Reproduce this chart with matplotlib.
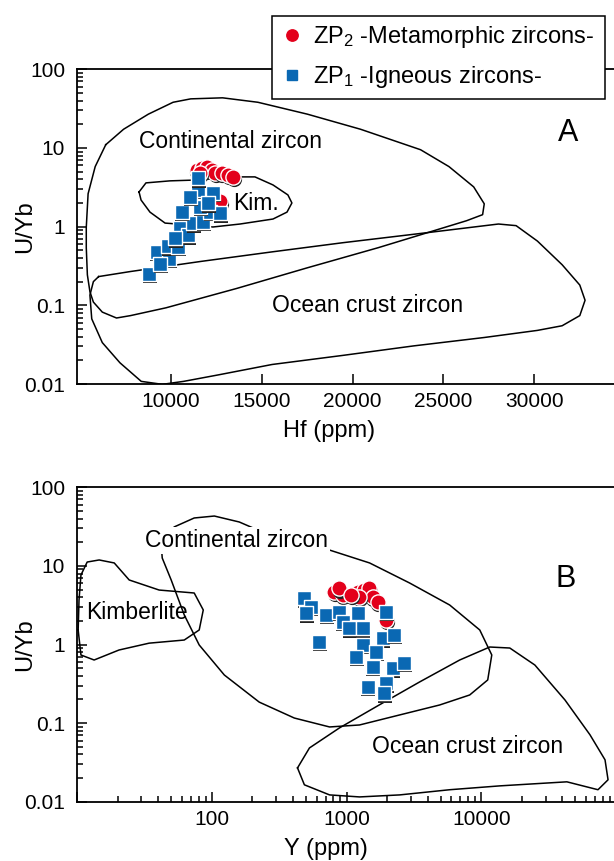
import matplotlib
matplotlib.use("Agg")
import matplotlib.pyplot as plt
from matplotlib.lines import Line2D
from matplotlib.ticker import FixedLocator, FixedFormatter, LogLocator, NullFormatter, NullLocator
from matplotlib.transforms import offset_copy

plt.rcParams['font.family'] = ['Liberation Sans', 'DejaVu Sans']
plt.rcParams['mathtext.default'] = 'regular'

RED = '#e3001b'
BLUE = '#0a68b3'

# ---- Panel A : U/Yb vs Hf (ppm) ----
hf_zp2 = [11440, 11710, 11990, 12260, 12440, 12810, 13170, 13450, 12720, 11620]
uyb_hf_zp2 = [5.3, 5.5, 5.8, 5.3, 4.8, 4.8, 4.6, 4.3, 2.1, 4.8]

hf_zp1 = [8830, 9240, 9920, 9880, 10430, 10520, 10980, 11250, 11800, 10610,
          12170, 12720, 11620, 12350, 11530, 11530, 11070, 12080, 9420, 10250]
uyb_hf_zp1 = [0.25, 0.48, 0.39, 0.56, 0.55, 0.95, 0.78, 1.10, 1.15, 1.55,
              1.55, 1.47, 1.79, 2.70, 2.92, 4.13, 2.41, 1.98, 0.34, 0.71]

cont_a_hf = [6440, 7420, 8780, 10140, 11110, 12860, 14800, 17520, 20440, 23740,
             25300, 26660, 27240, 27150, 26270, 24130, 21410, 17520, 13640, 9750,
             7800, 7030, 6250, 5760, 5570, 5430, 5370, 5370, 5470, 5860]
cont_a_uyb = [11.0, 17.3, 26.9, 38.1, 42.1, 43.4, 38.1, 26.9, 17.3, 9.5,
              5.8, 3.2, 1.95, 1.42, 1.19, 0.84, 0.54, 0.30, 0.164, 0.093,
              0.074, 0.069, 0.082, 0.110, 0.149, 0.244, 0.54, 0.98, 2.62, 5.8]

ocean_a_hf = [6050, 7800, 11690, 15580, 19470, 24130, 28020, 28990, 30160, 31520,
              32490, 32780, 32490, 31520, 30160, 27240, 23360, 19470, 15580, 12660,
              10720, 9550, 8390, 7220, 6250, 5670, 5570, 5760]
ocean_a_uyb = [0.232, 0.269, 0.362, 0.478, 0.625, 0.84, 1.08, 1.03, 0.656, 0.328,
               0.181, 0.116, 0.074, 0.055, 0.048, 0.039, 0.0305, 0.0231, 0.0177, 0.0131,
               0.0108, 0.0099, 0.0108, 0.0186, 0.0336, 0.0673, 0.135, 0.20]

kim_a_hf = [8270, 8650, 9970, 11620, 13270, 14640, 15630, 16450, 16670, 16400,
            15630, 13820, 12330, 11070, 9700, 8870, 8380]
kim_a_uyb = [2.76, 3.60, 3.82, 3.93, 4.29, 4.29, 3.39, 2.53, 2.00, 1.53,
             1.25, 1.08, 0.99, 1.05, 1.11, 1.53, 2.18]

# ---- Panel B : U/Yb vs Y (ppm) ----
y_zp2 = [811, 935, 883, 1211, 1356, 1477, 1563, 1703, 1245, 1079, 1968]
uyb_y_zp2 = [4.70, 4.26, 5.19, 4.70, 4.93, 5.19, 4.05, 3.51, 4.05, 4.26, 2.05]

y_zp1 = [485, 544, 500, 704, 883, 1211, 935, 1049, 1318, 628, 1968,
         1855, 2265, 1318, 1655, 1178, 1563, 2204, 2692, 1436, 1968, 1910]
uyb_y_zp1 = [3.87, 3.03, 2.49, 2.37, 2.61, 2.49, 1.95, 1.61, 1.61, 1.09, 2.61,
             1.20, 1.32, 0.99, 0.81, 0.70, 0.52, 0.50, 0.58, 0.29, 0.32, 0.24]

cont_b_y = [42.2, 52.6, 74.1, 104.5, 160, 268, 448, 749, 1484, 2940, 5830, 9750,
            11970, 11170, 8210, 4910, 2480, 1250, 749, 410, 225, 124, 80.7, 62.5,
            50.0, 42.9]
cont_b_uyb = [18.5, 31.3, 40.7, 43.1, 36.2, 24.7, 19.5, 15.9, 10.9, 6.06, 3.18, 1.53,
              0.736, 0.354, 0.228, 0.170, 0.127, 0.0947, 0.0893, 0.116, 0.185, 0.409,
              0.986, 2.38, 6.62, 12.6]

ocean_b_y = [433, 531, 887, 1758, 3490, 6920, 11560, 16290, 25000, 41800, 64100,
             82900, 87300, 73500, 43200, 13740, 5830, 2480, 1250, 749, 487]
ocean_b_uyb = [0.0269, 0.0483, 0.0869, 0.171, 0.334, 0.635, 0.929, 0.902, 0.548,
               0.197, 0.071, 0.0341, 0.019, 0.0142, 0.0179, 0.0159, 0.0142, 0.0122,
               0.0115, 0.0122, 0.0164]

kimb_b_y = [10.2, 10.35, 10.7, 11.9, 14.6, 18.9, 24.4, 40.7, 74.1, 86.5, 80.7,
            62.5, 34.3, 20.5, 13.4, 10.7]
kimb_b_uyb = [1.53, 3.68, 7.66, 11.2, 11.9, 10.9, 6.62, 4.93, 4.52, 2.75, 1.53,
              1.14, 1.04, 0.851, 0.635, 0.735]

uyb_ticks = [0.01, 0.1, 1, 10, 100]
uyb_labels = ['0.01', '0.1', '1', '10', '100']
hf_ticks = [10000, 15000, 20000, 25000, 30000]
y_ticks = [10, 100, 1000, 10000, 100000]
y_labels = ['', '100', '1000', '10000', '']


def closed(xs, ys):
    return list(xs) + [xs[0]], list(ys) + [ys[0]]


def field(ax, xs, ys):
    cx, cy = closed(xs, ys)
    ax.plot(cx, cy, color='black', lw=1.1, zorder=2)


def points(ax, fig, xs, ys, marker, color, size, z0):
    shadow = offset_copy(ax.transData, fig=fig, x=0.6, y=-2.4, units='dots')
    for i, (x, y) in enumerate(zip(xs, ys)):
        ax.scatter([x], [y], s=size, marker=marker, color='#222222', lw=0,
                   transform=shadow, zorder=z0 + 2 * i)
        ax.scatter([x], [y], s=size, marker=marker, facecolor=color,
                   edgecolor='white', lw=1.0, zorder=z0 + 2 * i + 1)


def style(ax):
    for s in ax.spines.values():
        s.set_linewidth(1.3)
    ax.spines['right'].set_visible(False)
    ax.set_yscale('log')
    ax.set_ylim(0.01, 100)
    ax.yaxis.set_major_locator(FixedLocator(uyb_ticks))
    ax.yaxis.set_major_formatter(FixedFormatter(uyb_labels))
    ax.yaxis.set_minor_locator(LogLocator(base=10, subs=range(2, 10)))
    ax.yaxis.set_minor_formatter(NullFormatter())
    ax.tick_params(which='both', direction='in', top=False, right=False,
                   labelsize=15, width=1.1)
    ax.tick_params(which='major', length=7)
    ax.tick_params(which='minor', length=4)
    ax.tick_params(axis='y', pad=8.5)
    ax.set_ylabel('U/Yb', fontsize=17)
    ax.yaxis.set_label_coords(-0.076, 0.5)


fig = plt.figure(figsize=(6.14, 8.61), dpi=100)
ax1 = fig.add_axes([77 / 614, 1 - 384 / 861, 539 / 614, 314.7 / 861])
ax2 = fig.add_axes([77 / 614, 1 - 801.7 / 861, 539 / 614, 314.4 / 861])

# Panel A
style(ax1)
ax1.set_xlim(4860, 34480)
ax1.xaxis.set_major_locator(FixedLocator(hf_ticks))
ax1.xaxis.set_minor_locator(NullLocator())
ax1.tick_params(axis='x', pad=5.5)
field(ax1, cont_a_hf, cont_a_uyb)
field(ax1, ocean_a_hf, ocean_a_uyb)
field(ax1, kim_a_hf, kim_a_uyb)
points(ax1, fig, hf_zp2, uyb_hf_zp2, 'o', RED, 120, 10)
points(ax1, fig, hf_zp1, uyb_hf_zp1, 's', BLUE, 92, 40)
ax1.set_xlabel('Hf (ppm)', fontsize=17)
ax1.xaxis.set_label_coords(0.467, -0.114)
ax1.text(0.284, 0.769, 'Continental zircon', transform=ax1.transAxes,
         ha='center', va='center', fontsize=16.5)
ax1.text(0.333, 0.575, 'Kim.', transform=ax1.transAxes,
         ha='center', va='center', fontsize=16.5, zorder=100)
ax1.text(0.540, 0.251, 'Ocean crust zircon', transform=ax1.transAxes,
         ha='center', va='center', fontsize=16.5)
ax1.text(0.911, 0.798, 'A', transform=ax1.transAxes,
         ha='center', va='center', fontsize=22)

# Panel B
style(ax2)
ax2.set_xscale('log')
ax2.set_xlim(10, 100000)
ax2.xaxis.set_major_locator(FixedLocator(y_ticks))
ax2.xaxis.set_major_formatter(FixedFormatter(y_labels))
ax2.xaxis.set_minor_locator(LogLocator(base=10, subs=range(2, 10)))
ax2.xaxis.set_minor_formatter(NullFormatter())
ax2.tick_params(axis='x', pad=6)
field(ax2, cont_b_y, cont_b_uyb)
field(ax2, ocean_b_y, ocean_b_uyb)
field(ax2, kimb_b_y, kimb_b_uyb)
points(ax2, fig, y_zp2, uyb_y_zp2, 'o', RED, 120, 10)
points(ax2, fig, y_zp1, uyb_y_zp1, 's', BLUE, 92, 40)
ax2.set_xlabel('Y (ppm)', fontsize=17)
ax2.xaxis.set_label_coords(0.461, -0.117)
ax2.text(0.295, 0.832, 'Continental zircon', transform=ax2.transAxes,
         ha='center', va='center', fontsize=16.5,
         bbox=dict(facecolor='white', edgecolor='none', pad=1.5), zorder=5)
ax2.text(0.111, 0.603, 'Kimberlite', transform=ax2.transAxes,
         ha='center', va='center', fontsize=16.5)
ax2.text(0.724, 0.175, 'Ocean crust zircon', transform=ax2.transAxes,
         ha='center', va='center', fontsize=16.5)
ax2.text(0.907, 0.709, 'B', transform=ax2.transAxes,
         ha='center', va='center', fontsize=22)

# Legend
handles = [Line2D([], [], ls='none', marker='o', ms=8.2, mfc=RED, mec=RED),
           Line2D([], [], ls='none', marker='s', ms=7.8, mfc=BLUE, mec=BLUE)]
labels = ['ZP$_{2}$ -Metamorphic zircons-', 'ZP$_{1}$ -Igneous zircons-']
leg = fig.legend(handles, labels, loc='upper left',
                 bbox_to_anchor=(271.7 / 614, 1 - 99.3 / 861, 333.3 / 614, 83.3 / 861),
                 mode='expand', borderaxespad=0, fontsize=17, fancybox=False,
                 edgecolor='black', framealpha=1, handlelength=1.0,
                 handletextpad=0.4, labelspacing=0.6, borderpad=0.35)
leg.get_frame().set_linewidth(1.1)

fig.savefig('out.png', dpi=100)
